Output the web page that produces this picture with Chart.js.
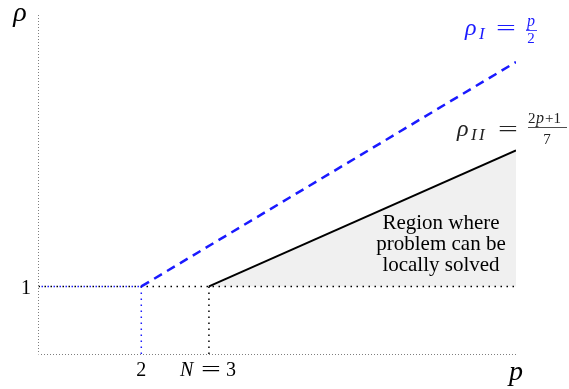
<!DOCTYPE html>
<html>
<head>
<meta charset="utf-8">
<script src="https://cdn.jsdelivr.net/npm/chart.js@4"></script>
<style>
  body { margin: 0; background: #fff; }
  canvas { display: block; }
</style>
</head>
<body>
<canvas id="chart" width="569" height="389"></canvas>
<script>
// axis ranges (schematic units)
const pRange = [0.48, 7.54];
const rhoRange = [0.16, 4.35];

// rho = 1 baseline
const baseP = [0.48, 7.54];
const baseRho = [1, 1];

// rho_I = p/2 (dashed blue)
const rhoIP = [2, 7.54];
const rhoIVals = [1, 3.77];

// rho_II = (2p+1)/7 (solid black)
const rhoIIP = [3, 7.54];
const rhoIIVals = [1, 2.68];

// tick marks on p axis
const tickP = [2, 3];
const tickLabels = ['2', 'N = 3'];
const rhoTick = 1;

function pts(xs, ys) {
    return xs.map((x, i) => ({ x: x, y: ys[i] }));
}

const serif = '"Liberation Serif", "DejaVu Serif", serif';

// wide LaTeX-like equals sign
function drawEquals(ctx, x, y) {
    ctx.save();
    ctx.translate(x, y);
    ctx.scale(1.6, 1);
    ctx.font = '22px ' + serif;
    ctx.textAlign = 'left';
    ctx.fillText('=', 0, 0);
    ctx.restore();
}

const labelPlugin = {
    id: 'labels',
    afterDraw(chart) {
        const ctx = chart.ctx;
        const xs = chart.scales.x;
        const ys = chart.scales.y;
        const px = v => xs.getPixelForValue(v);
        const py = v => ys.getPixelForValue(v);

        ctx.save();
        ctx.fillStyle = '#000';
        ctx.textBaseline = 'alphabetic';

        // axis names
        ctx.font = 'italic 28px ' + serif;
        ctx.textAlign = 'center';
        ctx.fillText('ρ', 20, 21);
        ctx.fillText('p', px(pRange[1]), 380);

        // ticks
        ctx.font = '20px ' + serif;
        ctx.fillText('1', 26, py(rhoTick) + 8);
        ctx.fillText(tickLabels[0], px(tickP[0]), 376);
        ctx.font = 'italic 20px ' + serif;
        ctx.textAlign = 'left';
        let x0 = px(tickP[1]) - 29;
        ctx.fillText('N', x0, 376);
        drawEquals(ctx, x0 + 21, 376);
        ctx.font = '20px ' + serif;
        ctx.fillText('3', x0 + 46, 376);

        // rho_I label (blue)
        ctx.fillStyle = '#1a1aff';
        ctx.strokeStyle = '#1a1aff';
        let lx = 465, ly = 35;
        ctx.font = 'italic 24px ' + serif;
        ctx.fillText('ρ', lx, ly);
        ctx.font = 'italic 17px ' + serif;
        ctx.fillText('I', lx + 14, ly + 4);
        drawEquals(ctx, lx + 31, ly);
        ctx.textAlign = 'center';
        ctx.font = 'italic 16px ' + serif;
        ctx.fillText('p', 531, 26);
        ctx.font = '15px ' + serif;
        ctx.fillText('2', 531, 43);
        ctx.lineWidth = 0.8;
        ctx.beginPath();
        ctx.moveTo(526, 30.5);
        ctx.lineTo(537, 30.5);
        ctx.stroke();

        // rho_II label (black)
        ctx.fillStyle = '#222';
        ctx.strokeStyle = '#222';
        ctx.textAlign = 'left';
        lx = 457; ly = 136;
        ctx.font = 'italic 24px ' + serif;
        ctx.fillText('ρ', lx, ly);
        ctx.font = 'italic 17px ' + serif;
        ctx.fillText('I', lx + 14, ly + 4);
        ctx.fillText('I', lx + 22, ly + 4);
        drawEquals(ctx, lx + 41, ly);
        ctx.font = '15px ' + serif;
        ctx.fillText('2', 528, 123);
        ctx.font = 'italic 16px ' + serif;
        ctx.fillText('p', 536, 123);
        ctx.font = '15px ' + serif;
        ctx.fillText('+1', 545, 123);
        ctx.textAlign = 'center';
        ctx.fillText('7', 547, 144);
        ctx.beginPath();
        ctx.moveTo(528, 127.5);
        ctx.lineTo(567, 127.5);
        ctx.stroke();

        // region text
        ctx.fillStyle = '#000';
        ctx.font = '21px ' + serif;
        ctx.textAlign = 'center';
        ctx.fillText('Region where', 441, 229);
        ctx.fillText('problem can be', 441, 250);
        ctx.fillText('locally solved', 441, 271);
        ctx.restore();
    }
};

const dotted = { borderWidth: 1.5, borderDash: [1.5, 4.5] };
const axisDots = { borderColor: '#000', borderWidth: 1, borderDash: [1, 2], borderDashOffset: 0.5, order: 4 };

const datasets = [
    {   // rho_I dashed blue
        data: pts(rhoIP, rhoIVals),
        borderColor: '#1a1aff',
        borderWidth: 2.5,
        borderDash: [9, 6],
        order: 0
    },
    {   // rho_II solid black with shaded region down to rho = 1
        data: pts(rhoIIP, rhoIIVals),
        borderColor: '#000',
        borderWidth: 2,
        backgroundColor: '#f0f0f0',
        fill: { value: rhoTick },
        order: 1
    },
    Object.assign({   // blue dotted part of rho = 1 up to p = 2
        data: pts([pRange[0], tickP[0]], [rhoTick, rhoTick]),
        borderColor: '#1a1aff',
        borderDashOffset: 3,
        order: 2
    }, dotted),
    Object.assign({   // blue dotted drop at p = 2
        data: pts([tickP[0], tickP[0]], [rhoTick, rhoRange[0]]),
        borderColor: '#1a1aff',
        order: 2
    }, dotted),
    Object.assign({   // black dotted drop at p = N = 3
        data: pts([tickP[1], tickP[1]], [rhoTick, rhoRange[0]]),
        borderColor: '#000',
        order: 2
    }, dotted),
    Object.assign({   // rho = 1 black dotted
        data: pts(baseP, baseRho),
        borderColor: '#000',
        order: 3
    }, dotted),
    Object.assign({   // p axis
        data: pts(pRange, [rhoRange[0], rhoRange[0]])
    }, axisDots),
    Object.assign({   // rho axis
        data: pts([pRange[0], pRange[0]], rhoRange)
    }, axisDots)
];

new Chart(document.getElementById('chart'), {
    type: 'line',
    data: { datasets: datasets },
    options: {
        responsive: false,
        devicePixelRatio: 1,
        animation: false,
        events: [],
        layout: { padding: { left: 38.5, right: 53, top: 15, bottom: 34.5 } },
        elements: { point: { radius: 0 }, line: { tension: 0 } },
        plugins: {
            legend: { display: false },
            tooltip: { enabled: false },
            filler: { drawTime: 'beforeDatasetsDraw' }
        },
        scales: {
            x: { type: 'linear', display: false, min: pRange[0], max: pRange[1] },
            y: { type: 'linear', display: false, min: rhoRange[0], max: rhoRange[1] }
        }
    },
    plugins: [labelPlugin]
});
</script>
</body>
</html>
